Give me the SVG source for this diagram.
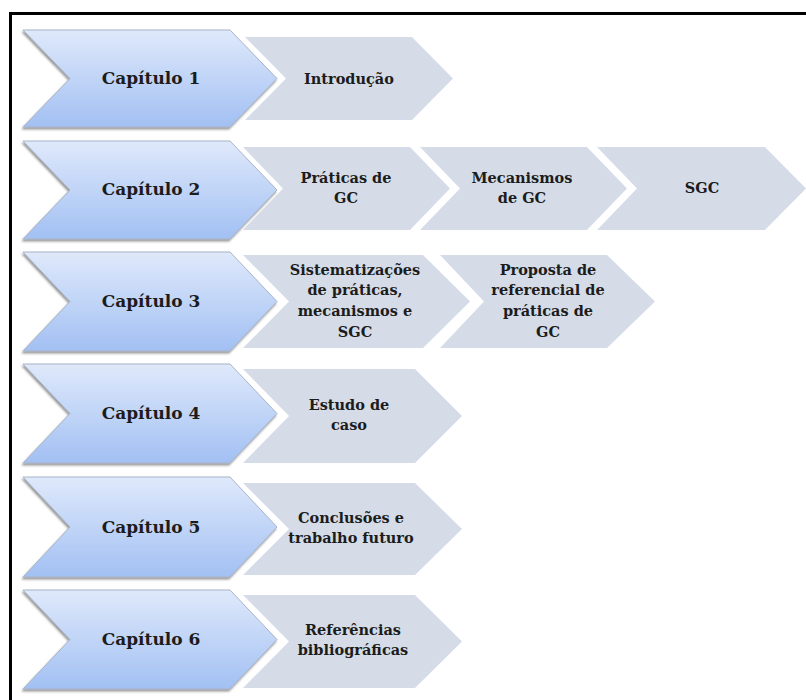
<svg xmlns="http://www.w3.org/2000/svg" width="806" height="700" viewBox="0 0 806 700">
<defs>
<linearGradient id="blueGrad" x1="0" y1="0" x2="0" y2="1">
<stop offset="0" stop-color="#dfe9fb"/>
<stop offset="1" stop-color="#a2c0f3"/>
</linearGradient>
<filter id="shadow" x="-10%" y="-10%" width="120%" height="130%">
<feDropShadow dx="-1" dy="2" stdDeviation="1.3" flood-color="#444" flood-opacity="0.55"/>
</filter>
<style>
.blue{fill:url(#blueGrad);stroke:#a8b4c8;stroke-width:1;filter:url(#shadow);}
.gray{fill:#d5dce8;}
.cap{font-family:"DejaVu Serif","Liberation Serif",serif;font-weight:bold;font-size:17px;fill:#1c1c1c;text-anchor:middle;}
.lbl{font-family:"DejaVu Serif","Liberation Serif",serif;font-weight:bold;font-size:14.5px;fill:#1c1c1c;text-anchor:middle;}
.frame{fill:none;stroke:#000;stroke-width:3;}
</style>
</defs>
<rect width="806" height="700" fill="#fff"/>
<path class="frame" d="M10.5,702 V13.5 H808"/>
<g id="connectors"/>

<!-- Row 1 -->
<g id="r1-intro">
<polygon class="gray" points="245,37 412,37 453,78.5 412,120 245,120 286,78.5"/>
<text class="lbl" x="349" y="84">Introdução</text>
</g>
<g id="r1-cap">
<polygon class="blue" points="23,30 230,30 277,78.5 230,127 23,127 70,78.5"/>
<text class="cap" x="151" y="84">Capítulo 1</text>
</g>

<!-- Row 2 -->
<g id="r2-praticas">
<polygon class="gray" points="243,147 410,147 450,188.5 410,230 243,230 283,188.5"/>
<text class="lbl" x="346" y="183">Práticas de</text>
<text class="lbl" x="346" y="203">GC</text>
</g>
<g id="r2-mecanismos">
<polygon class="gray" points="420,147 587,147 627,188.5 587,230 420,230 460,188.5"/>
<text class="lbl" x="522" y="183">Mecanismos</text>
<text class="lbl" x="522" y="203">de GC</text>
</g>
<g id="r2-sgc">
<polygon class="gray" points="597,147 765,147 806,188.5 765,230 597,230 637,188.5"/>
<text class="lbl" x="702" y="193">SGC</text>
</g>
<g id="r2-cap">
<polygon class="blue" points="23,141 230,141 277,190 230,239 23,239 70,190"/>
<text class="cap" x="151" y="195">Capítulo 2</text>
</g>

<!-- Row 3 -->
<g id="r3-sistematizacoes">
<polygon class="gray" points="243,255 423,255 470,301.5 423,348 243,348 289,301.5"/>
<text class="lbl" x="355" y="275">Sistematizações</text>
<text class="lbl" x="355" y="295">de práticas,</text>
<text class="lbl" x="355" y="316">mecanismos e</text>
<text class="lbl" x="355" y="337">SGC</text>
</g>
<g id="r3-proposta">
<polygon class="gray" points="440,255 607,255 655,301.5 607,348 440,348 484,301.5"/>
<text class="lbl" x="548" y="275">Proposta de</text>
<text class="lbl" x="548" y="295">referencial de</text>
<text class="lbl" x="548" y="316">práticas de</text>
<text class="lbl" x="548" y="337">GC</text>
</g>
<g id="r3-cap">
<polygon class="blue" points="23,252 230,252 277,301.5 230,351 23,351 70,301.5"/>
<text class="cap" x="151" y="307">Capítulo 3</text>
</g>

<!-- Row 4 -->
<g id="r4-estudo">
<polygon class="gray" points="243,369 415,369 462,416 415,463 243,463 289,416"/>
<text class="lbl" x="349" y="410">Estudo de</text>
<text class="lbl" x="349" y="430">caso</text>
</g>
<g id="r4-cap">
<polygon class="blue" points="23,364 230,364 277,413.5 230,463 23,463 70,413.5"/>
<text class="cap" x="151" y="419">Capítulo 4</text>
</g>

<!-- Row 5 -->
<g id="r5-conclusoes">
<polygon class="gray" points="243,483 415,483 462,529 415,575 243,575 289,529"/>
<text class="lbl" x="351" y="523">Conclusões e</text>
<text class="lbl" x="351" y="543">trabalho futuro</text>
</g>
<g id="r5-cap">
<polygon class="blue" points="23,477 230,477 277,527 230,577 23,577 70,527"/>
<text class="cap" x="151" y="533">Capítulo 5</text>
</g>

<!-- Row 6 -->
<g id="r6-referencias">
<polygon class="gray" points="243,595 415,595 462,641.5 415,688 243,688 289,641.5"/>
<text class="lbl" x="353" y="635">Referências</text>
<text class="lbl" x="353" y="655">bibliográficas</text>
</g>
<g id="r6-cap">
<polygon class="blue" points="23,590 230,590 277,639.5 230,689 23,689 70,639.5"/>
<text class="cap" x="151" y="645">Capítulo 6</text>
</g>
</svg>
